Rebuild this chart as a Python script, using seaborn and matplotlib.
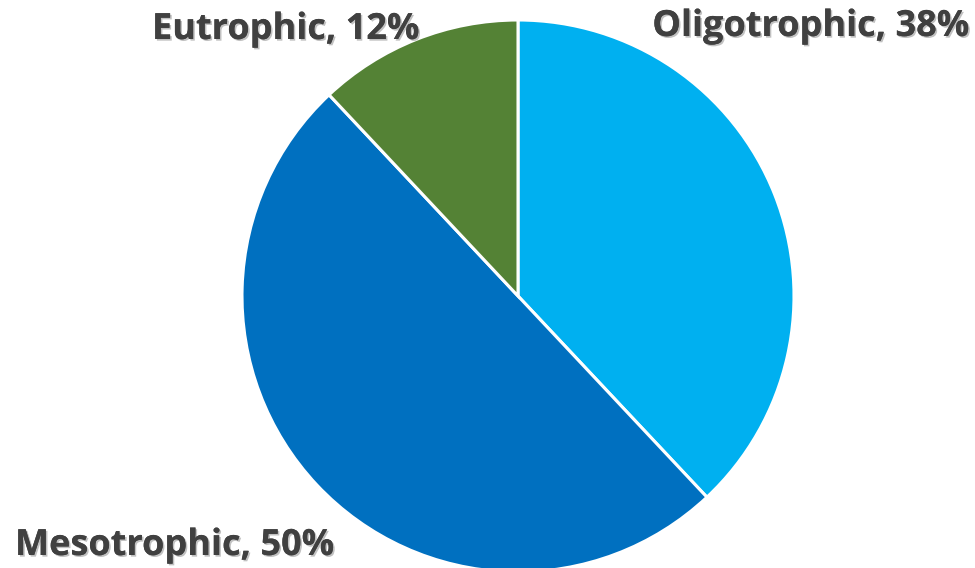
import matplotlib
matplotlib.use("Agg")
import matplotlib.pyplot as plt
import matplotlib.patheffects as pe
import seaborn as sns

categories = ["Oligotrophic", "Mesotrophic", "Eutrophic"]
values = [38, 50, 12]
colors = ["#00B0F0", "#0070C0", "#548235"]

sns.set_style("white")
plt.rcParams["font.family"] = ["Open Sans", "DejaVu Sans"]

W, H = 975, 568
fig = plt.figure(figsize=(W / 100, H / 100), dpi=100)
cx, cy, r = 518, 296, 276
ax = fig.add_axes([(cx - r) / W, (H - cy - r) / H, 2 * r / W, 2 * r / H])
pal = sns.color_palette(colors)
ax.pie(values, colors=pal, startangle=90, counterclock=False,
       wedgeprops=dict(edgecolor="white", linewidth=2.2))
ax.set_xlim(-1, 1)
ax.set_ylim(-1, 1)
ax.set_aspect("auto")
ax.axis("off")

label_pos = {"Oligotrophic": (970, 27, "right"),
             "Mesotrophic": (15, 546, "left"),
             "Eutrophic": (152, 30, "left")}
effects = [pe.withSimplePatchShadow(offset=(1.2, -1.2), shadow_rgbFace="#999999", alpha=0.6), pe.Normal()]
for cat, v in zip(categories, values):
    x, y, ha = label_pos[cat]
    fig.text(x / W, 1 - y / H, f"{cat}, {v}%", ha=ha, va="center",
             fontsize=26, fontweight="bold", color="#404040", path_effects=effects)

fig.savefig("out.png", dpi=100)
